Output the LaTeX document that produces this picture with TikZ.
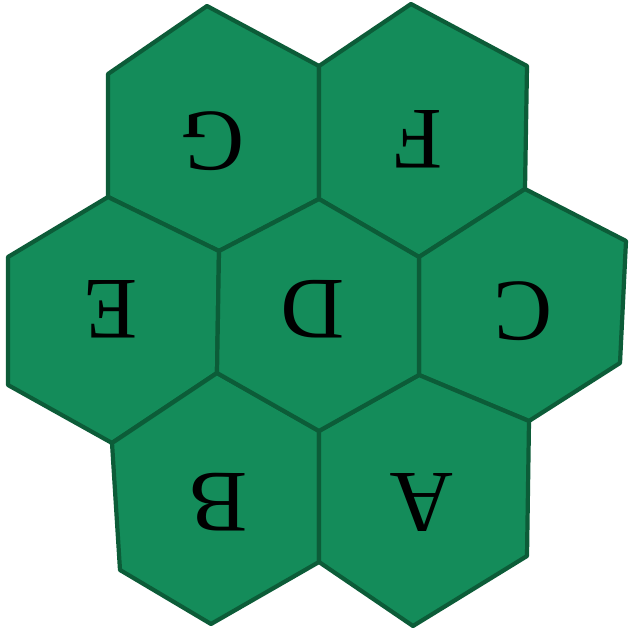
\documentclass[tikz,border=0pt]{standalone}
\usepackage{fontspec}
\setmainfont{Liberation Serif}
\definecolor{cellgreen}{RGB}{20,140,90}
\definecolor{edgegreen}{RGB}{12,92,56}
\begin{document}
\begin{tikzpicture}[x=0.02cm, y=-0.02cm,
  cell/.style={fill=cellgreen, draw=edgegreen, line width=2.4pt, line join=round},
  letter/.style={rotate=180, inner sep=0pt, font=\fontsize{50}{50}\selectfont}]
\useasboundingbox (0,0) rectangle (629,628);

% outer ring
\draw[cell] (207,6) -- (319,66) -- (319,199) -- (219,251) -- (108,197) -- (108,74) -- cycle;
\draw[cell] (411,4) -- (527,66) -- (525,189) -- (419,257) -- (319,199) -- (319,66) -- cycle;
\draw[cell] (108,197) -- (219,251) -- (217,373) -- (112,443) -- (8,385) -- (8,257) -- cycle;
\draw[cell] (525,189) -- (626,241) -- (620,363) -- (529,421) -- (419,375) -- (419,257) -- cycle;
\draw[cell] (217,373) -- (319,431) -- (319,562) -- (211,624) -- (120,570) -- (112,443) -- cycle;
\draw[cell] (419,375) -- (529,421) -- (527,556) -- (413,626) -- (319,562) -- (319,431) -- cycle;

% middle
\draw[cell] (319,199) -- (419,257) -- (419,375) -- (319,431) -- (217,373) -- (219,251) -- cycle;

\node[letter] (g) at (213,141) {G};
\node[letter] (f) at (418,139) {F};
\node[letter] (e) at (111,309) {E};
\node[letter] (d) at (313,309) {D};
\node[letter] (c) at (523,311) {C};
\node[letter] (b) at (218,502) {B};
\node[letter] (a) at (422,502) {A};
\end{tikzpicture}
\end{document}
